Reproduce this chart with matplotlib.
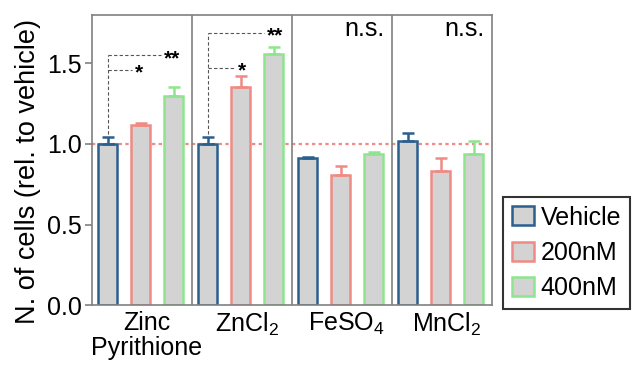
import numpy as np
import matplotlib
matplotlib.use("Agg")
import matplotlib.pyplot as plt

plt.rcParams['font.family'] = ['Liberation Sans', 'DejaVu Sans']
plt.rcParams['mathtext.fontset'] = 'custom'
plt.rcParams['mathtext.rm'] = 'Liberation Sans'
plt.rcParams['mathtext.it'] = 'Liberation Sans'

# data
groups = ["Zinc\nPyrithione", "ZnCl$_2$", "FeSO$_4$", "MnCl$_2$"]
series = ["Vehicle", "200nM", "400nM"]
vehicle = [1.00, 1.00, 0.91, 1.02]
nm200 = [1.12, 1.35, 0.81, 0.83]
nm400 = [1.30, 1.56, 0.94, 0.94]
vehicle_err = [0.04, 0.04, 0.01, 0.05]
nm200_err = [0.01, 0.07, 0.05, 0.08]
nm400_err = [0.05, 0.04, 0.01, 0.08]
edge_colors = ["#2b5f8e", "#f08a84", "#8ee58e"]

values = [vehicle, nm200, nm400]
errors = [vehicle_err, nm200_err, nm400_err]

fig = plt.figure(figsize=(6.33, 3.73), dpi=100)
ax = fig.add_axes([0.145, 0.182, 0.632, 0.778])

x = np.arange(len(groups))
offsets = [0.16, 0.49, 0.82]
width = 0.19
handles = []
for i in range(3):
    pos = x + offsets[i]
    b = ax.bar(pos, values[i], width, color="#d3d3d3", edgecolor=edge_colors[i],
               linewidth=1.8, label=series[i], zorder=2)
    handles.append(b)
    ax.errorbar(pos, values[i], yerr=[np.zeros(4), errors[i]], fmt="none",
                ecolor=edge_colors[i], elinewidth=1.8, capsize=4, capthick=1.8, zorder=3)

# reference line at 1.0
ax.axhline(1.0, color="#f28a8a", linestyle=(0, (1.5, 1.5)), linewidth=1.6, zorder=1)

# group separators
for s in [1, 2, 3]:
    ax.axvline(s, color="#808080", linewidth=1.2, zorder=1)

# significance brackets
def bracket(x0, y0, ys, xe, label):
    ax.plot([x0, x0], [y0, max(ys)], color="#555555", linestyle=(0, (3, 2)), linewidth=0.8, zorder=4)
    for yy, xx, lab in zip(ys, xe, label):
        ax.plot([x0, xx], [yy, yy], color="#555555", linestyle=(0, (3, 2)), linewidth=0.8, zorder=4)
        ax.text(xx + 0.03, yy - 0.02, lab, ha="left", va="center", fontsize=15, fontweight="bold")

bracket(0.16, 1.06, [1.46, 1.55], [0.40, 0.69], ["*", "**"])
bracket(1.16, 1.06, [1.47, 1.69], [1.43, 1.72], ["*", "**"])

ax.text(2.93, 1.71, "n.s.", ha="right", va="center", fontsize=18)
ax.text(3.93, 1.71, "n.s.", ha="right", va="center", fontsize=18)

ax.set_xlim(0, 4)
ax.set_ylim(0, 1.8)
ax.set_yticks([0.0, 0.5, 1.0, 1.5])
ax.set_yticklabels(["0.0", "0.5", "1.0", "1.5"])
ax.set_xticks(x + 0.55)
ax.set_xticklabels(groups, fontsize=18, linespacing=1.05)
ax.tick_params(axis="x", length=0, pad=4)
ax.tick_params(axis="y", labelsize=18, length=5, width=1.2, color="#808080", pad=2)
ax.set_ylabel("N. of cells (rel. to vehicle)", fontsize=19.5)
ax.yaxis.set_label_coords(-0.128, 0.46)
for sp in ax.spines.values():
    sp.set_color("#808080")
    sp.set_linewidth(1.2)

leg = fig.legend(handles=handles, labels=series, loc="lower left",
                 bbox_to_anchor=(0.795, 0.172), fontsize=18, frameon=True,
                 fancybox=False, edgecolor="black", handlelength=0.9,
                 handleheight=0.8, handletextpad=0.25, borderpad=0.35,
                 labelspacing=0.45, borderaxespad=0)
leg.get_frame().set_linewidth(1.5)

fig.savefig("out.png", dpi=100)
